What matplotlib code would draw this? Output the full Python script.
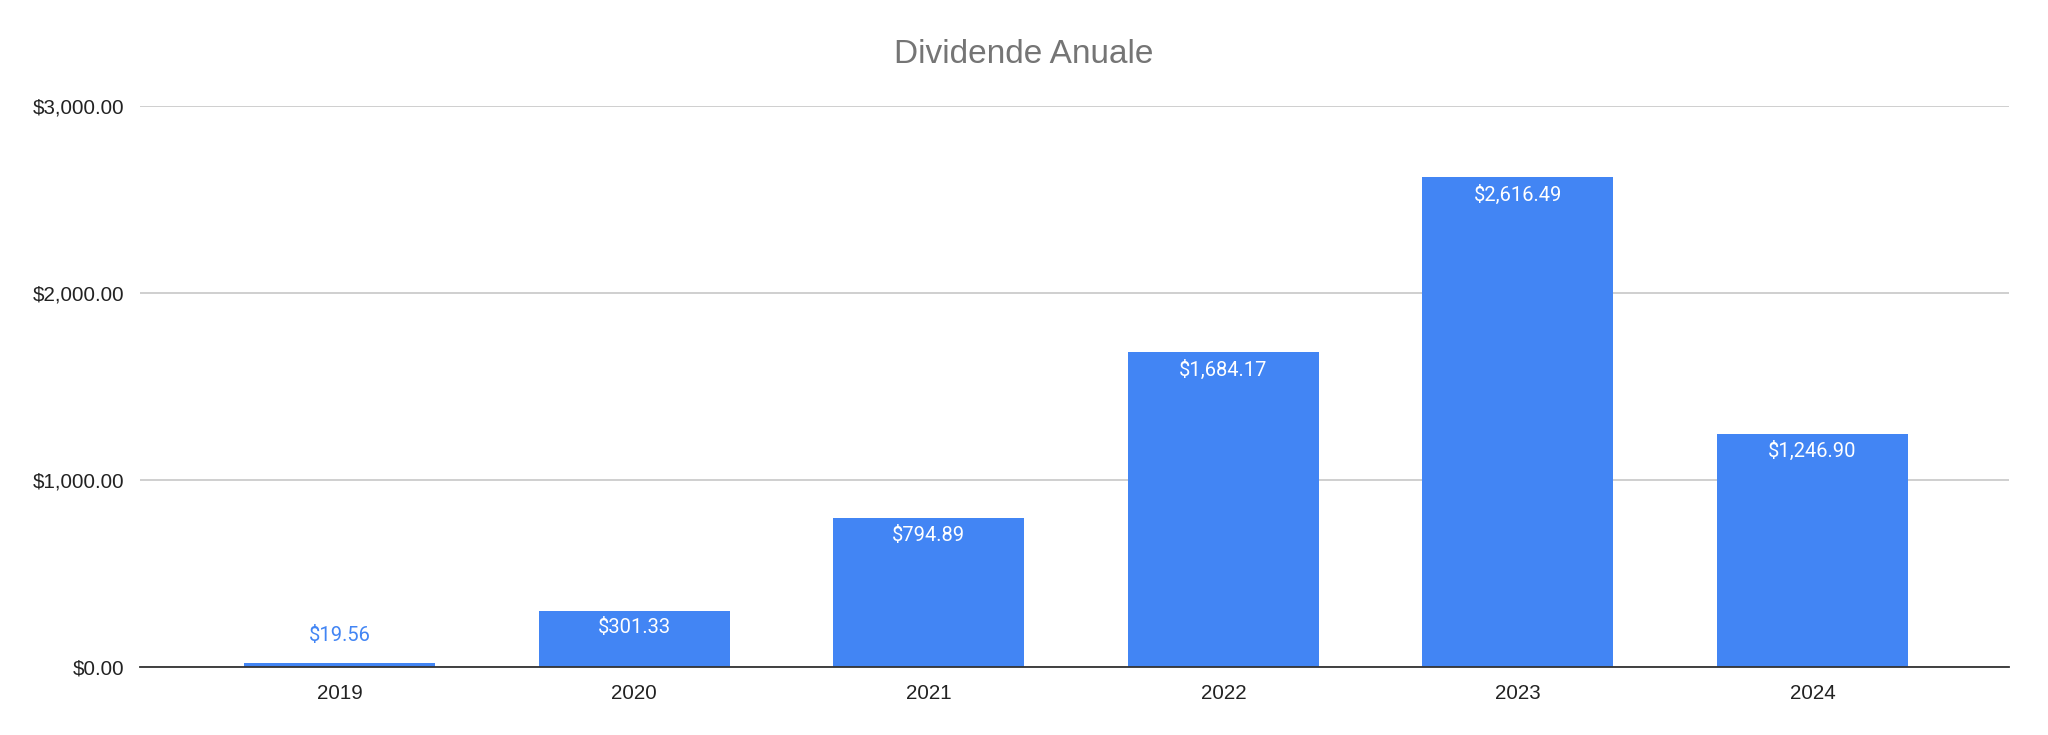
import matplotlib
matplotlib.use("Agg")
import matplotlib.pyplot as plt
from matplotlib.ticker import FuncFormatter

years = ["2019", "2020", "2021", "2022", "2023", "2024"]
values = [19.56, 301.33, 794.89, 1684.17, 2616.49, 1246.90]
yticks = [0, 1000, 2000, 3000]
title = "Dividende Anuale"

BLUE = "#4285F4"
W, H, DPI = 2048, 735, 100
fig = plt.figure(figsize=(W / DPI, H / DPI), dpi=DPI)
ax = fig.add_axes([139.8 / W, 1 - 667 / H, (2009 - 139.8) / W, (667 - 105.5) / H])

x = list(range(len(years)))
bars = ax.bar(x, values, width=0.648, color=BLUE, zorder=3)

ax.set_xlim(-0.678, 5.667)
ax.set_ylim(0, 3000)
ax.set_yticks(yticks)
ax.yaxis.set_major_formatter(FuncFormatter(lambda v, p: f"${v:,.2f}"))
ax.set_xticks(x)
ax.set_xticklabels(years)

for lab in ax.get_xticklabels() + ax.get_yticklabels():
    lab.set_fontfamily("Liberation Sans")
    lab.set_fontsize(14.8)
    lab.set_color("#222222")
ax.tick_params(axis="both", length=0)
ax.tick_params(axis="y", pad=11)
ax.tick_params(axis="x", pad=12)

ax.grid(axis="y", color="#cccccc", linewidth=1.3, zorder=0)
for s in ["left", "right", "top"]:
    ax.spines[s].set_visible(False)
ax.spines["bottom"].set_color("#333333")
ax.spines["bottom"].set_linewidth(1.3)
ax.spines["bottom"].set_zorder(4)

for xi, v in zip(x, values):
    label = f"${v:,.2f}"
    if v < 200:
        ax.annotate(label, (xi, v), xytext=(0, 16), textcoords="offset points",
                    ha="center", va="baseline", color=BLUE,
                    fontfamily="Roboto", fontsize=14.5, zorder=5)
    else:
        ax.annotate(label, (xi, v), xytext=(0, -5.5), textcoords="offset points",
                    ha="center", va="top", color="white",
                    fontfamily="Roboto", fontsize=14.5, zorder=5)

fig.text(0.5, 1 - 63 / H, title, ha="center", va="baseline",
         fontfamily="Liberation Sans", fontsize=24, color="#757575")

fig.savefig("out.png", dpi=DPI, facecolor="white")
